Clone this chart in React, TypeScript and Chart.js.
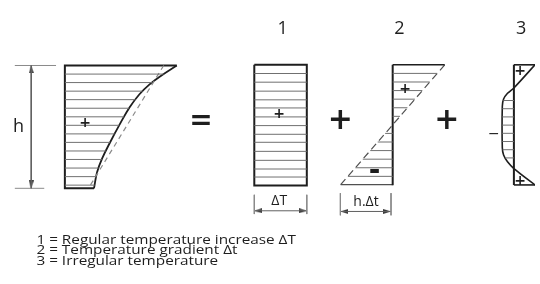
import React, { useEffect, useRef } from "react";
import { Chart, registerables } from "chart.js";

Chart.register(...registerables);

type P = [number, number];

// ---------- Figure 0 : real temperature profile ----------
const fig0Outline: P[] = [[175, 62.7], [61, 62.7], [61, 190], [90.7, 190]];
const fig0Curve: P[] = [
  [175, 62.7], [158, 74], [147, 82.5], [137, 92.5], [127, 106],
  [117, 123.5], [107, 142.5], [99, 159], [93.8, 173.3], [90.7, 190],
];
const fig0Dashed: P[] = [[161.7, 62.7], [85, 190]];
const fig0HatchYs = [71.6, 80.4, 89.3, 98.1, 107, 115.9, 124.7, 133.6, 142.4, 151.3, 160.1, 169, 177.9, 186.7];
const fig0LeftX = 61;
const fig0DimLine: P[] = [[26.7, 62.7], [26.7, 190]];
const fig0ExtTop: P[] = [[10, 62.7], [52, 62.7]];
const fig0ExtBottom: P[] = [[10, 190], [40, 190]];

// ---------- Figure 1 : uniform increase ----------
const fig1Rect: P[] = [[254, 62], [307.5, 62], [307.5, 187], [254, 187], [254, 62]];
const fig1HatchYs = [71, 80, 89.3, 98.3, 106.7, 116, 125, 134, 142.3, 151.7, 161, 170, 178.3];
const fig1Span: P = [254, 307.5];
const fig1TickL: P[] = [[254, 196.7], [254, 216.7]];
const fig1TickR: P[] = [[307.5, 196.7], [307.5, 216.7]];
const fig1Arrow: P[] = [[254, 213.3], [307.5, 213.3]];

// ---------- Figure 2 : gradient ----------
const fig2Axis: P[] = [[395, 62], [395, 186.7]];
const fig2Top: P[] = [[395, 62], [448, 62]];
const fig2Bottom: P[] = [[342, 186.2], [395, 186.2]];
const fig2Diag: P[] = [[448, 62], [342, 186.2]];
const fig2DiagTop: P[] = [[448, 62], [395, 124.2]];
const fig2DiagBottom: P[] = [[342, 186.2], [395, 124.2]];
const fig2HatchTopYs = [70.9, 79.8, 88.7, 97.6, 106.5, 115.4];
const fig2HatchBottomYs = [133.1, 142, 150.9, 159.8, 168.7, 177.6];
const fig2AxisX = 395;
const fig2TickL: P[] = [[341.7, 195], [341.7, 218]];
const fig2TickR: P[] = [[393.3, 195], [393.3, 218]];
const fig2Arrow: P[] = [[341.7, 214], [393.3, 214]];

// ---------- Figure 3 : irregular ----------
const fig3Axis: P[] = [[518.5, 62], [518.5, 186.5]];
const fig3Top: P[] = [[518.5, 62], [540, 62]];
const fig3Bottom: P[] = [[518.5, 186.5], [540, 186.5]];
const fig3Curve: P[] = [
  [540, 62], [518.5, 86], [512, 91.5], [508, 97.5], [506.7, 105],
  [506.7, 148], [508, 155.5], [512, 162.5], [518.5, 169.5], [540, 186.5],
];
const fig3HatchYs = [99, 107.5, 116, 124.5, 133, 141.5, 150, 158.5];
const fig3AxisX = 518.5;

// ---------- arrow heads (tip positions, direction in degrees: 0 up, 90 right) ----------
const arrowTips: P[] = [[26.7, 62.7], [26.7, 190], [254, 213.3], [307.5, 213.3], [341.7, 214], [393.3, 214]];
const arrowDirs = [0, 180, 270, 90, 270, 90];

// ---------- texts ----------
const figureLabels = ["1", "2", "3"];
const figureLabelXs = [281.7, 401.7, 525.7];
const figureLabelY = 23;
const legendLines = [
  "1 = Regular temperature increase \u0394T",
  "2 = Temperature gradient \u0394t",
  "3 = Irregular temperature",
];
const legendX = 32;
const legendBaselines = [247.3, 258.4, 269.5];
const legendWidth = 259.5;

// [text, x, y, font]
const glyphs: [string, number, number, string][] = [
  ["h", 13.8, 124.5, "18px 'Open Sans'"],
  ["+", 81.7, 121.7, "bold 14px 'DejaVu Sans'"],
  ["=", 199.5, 118.8, "bold 28px 'DejaVu Sans'"],
  ["+", 279.3, 112.3, "bold 14px 'DejaVu Sans'"],
  ["\u0394T", 279.5, 201.7, "14px 'Open Sans'"],
  ["+", 341.7, 118.5, "bold 30px 'DejaVu Sans'"],
  ["+", 407.7, 86.7, "bold 14px 'DejaVu Sans'"],
  ["-", 376.7, 171.7, "bold 28px 'DejaVu Sans'"],
  ["h.\u0394t", 368.3, 203, "14px 'Open Sans'"],
  ["+", 450, 118.5, "bold 30px 'DejaVu Sans'"],
  ["+", 525, 68.3, "bold 14px 'DejaVu Sans'"],
  ["+", 525, 181.7, "bold 14px 'DejaVu Sans'"],
  ["\u2212", 498.3, 133.5, "14px 'DejaVu Sans'"],
];

const DARK = "#1e1e1e";
const HATCH = "#707070";
const DIM = "#606060";
const TEXT = "#1e1e1e";

function xAt(poly: P[], y: number): number {
  for (let i = 0; i < poly.length - 1; i++) {
    const [x1, y1] = poly[i];
    const [x2, y2] = poly[i + 1];
    const lo = Math.min(y1, y2);
    const hi = Math.max(y1, y2);
    if (y >= lo && y <= hi && hi > lo) {
      return x1 + ((y - y1) * (x2 - x1)) / (y2 - y1);
    }
  }
  return poly[poly.length - 1][0];
}

function segData(segs: [number, number, number][]) {
  const out: { x: number; y: number | null }[] = [];
  segs.forEach(([y, a, b]) => {
    out.push({ x: a, y });
    out.push({ x: b, y });
    out.push({ x: b, y: null });
  });
  return out;
}

function lineDs(pts: P[], color: string, width: number, extra: any = {}) {
  return {
    type: "scatter",
    data: pts.map(([x, y]) => ({ x, y })),
    showLine: true,
    borderColor: color,
    borderWidth: width,
    pointRadius: 0,
    pointHoverRadius: 0,
    fill: false,
    tension: 0,
    spanGaps: false,
    ...extra,
  };
}

function hatchDs(segs: [number, number, number][], color = HATCH, width = 1) {
  return {
    type: "scatter",
    data: segData(segs),
    showLine: true,
    borderColor: color,
    borderWidth: width,
    pointRadius: 0,
    pointHoverRadius: 0,
    fill: false,
    tension: 0,
    spanGaps: false,
  };
}

function drawGlyph(ctx: CanvasRenderingContext2D, text: string, font: string, cx: number, cy: number) {
  ctx.font = font;
  ctx.textAlign = "left";
  ctx.textBaseline = "alphabetic";
  const m = ctx.measureText(text);
  const w = m.actualBoundingBoxLeft + m.actualBoundingBoxRight;
  const h = m.actualBoundingBoxAscent + m.actualBoundingBoxDescent;
  const x = cx - w / 2 + m.actualBoundingBoxLeft;
  const y = cy + h / 2 - m.actualBoundingBoxDescent;
  ctx.fillText(text, x, y);
}

const textPlugin = {
  id: "diagramText",
  afterDatasetsDraw(chart: any) {
    const { ctx } = chart;
    const sx = chart.scales.x;
    const sy = chart.scales.y;
    ctx.save();
    ctx.fillStyle = TEXT;
    glyphs.forEach(([t, x, y, f]) => {
      drawGlyph(ctx, t, f, sx.getPixelForValue(x), sy.getPixelForValue(y));
    });
    figureLabels.forEach((t, i) => {
      drawGlyph(ctx, t, "18px 'Open Sans'", sx.getPixelForValue(figureLabelXs[i]), sy.getPixelForValue(figureLabelY));
    });
    const legendFont = "12.6px 'Open Sans'";
    ctx.font = legendFont;
    ctx.textAlign = "left";
    ctx.textBaseline = "alphabetic";
    const scale = legendWidth / ctx.measureText(legendLines[0]).width;
    legendLines.forEach((t, i) => {
      ctx.save();
      ctx.translate(sx.getPixelForValue(legendX), sy.getPixelForValue(legendBaselines[i]));
      ctx.scale(scale, 1);
      ctx.fillText(t, 0, 0);
      ctx.restore();
    });
    ctx.restore();
  },
};

export default function App() {
  const ref = useRef<HTMLCanvasElement | null>(null);

  useEffect(() => {
    document.body.style.margin = "0";
    const canvas = ref.current;
    if (!canvas) return;

    // arrow head image
    const arrow = document.createElement("canvas");
    arrow.width = 5;
    arrow.height = 8;
    const actx = arrow.getContext("2d")!;
    actx.fillStyle = "#3a3a3a";
    actx.beginPath();
    actx.moveTo(2.5, 0);
    actx.lineTo(5, 8);
    actx.lineTo(0, 8);
    actx.closePath();
    actx.fill();
    const half = 4;
    const arrowCenters = arrowTips.map(([x, y], i) => {
      const r = (arrowDirs[i] * Math.PI) / 180;
      return { x: x - Math.sin(r) * half, y: y + Math.cos(r) * half };
    });

    const fig0Segs: [number, number, number][] = fig0HatchYs.map((y) => [y, fig0LeftX, xAt(fig0Curve, y)]);
    const fig1Segs: [number, number, number][] = fig1HatchYs.map((y) => [y, fig1Span[0], fig1Span[1]]);
    const fig2Segs: [number, number, number][] = [
      ...fig2HatchTopYs.map((y) => [y, fig2AxisX, xAt(fig2Diag, y)] as [number, number, number]),
      ...fig2HatchBottomYs.map((y) => [y, xAt(fig2Diag, y), fig2AxisX] as [number, number, number]),
    ];
    const fig3Segs: [number, number, number][] = fig3HatchYs.map((y) => [y, xAt(fig3Curve.slice(1, 9), y), fig3AxisX]);

    const diagLen = Math.hypot(fig2DiagTop[0][0] - fig2DiagTop[1][0], fig2DiagTop[0][1] - fig2DiagTop[1][1]);
    const period = diagLen / 7;

    const datasets: any[] = [
      hatchDs(fig0Segs),
      hatchDs(fig1Segs),
      hatchDs(fig2Segs),
      hatchDs(fig3Segs),
      lineDs(fig0Dashed, "#8a8a8a", 1.2, { borderDash: [5, 4] }),
      lineDs(fig0Outline, DARK, 2),
      lineDs(fig0Curve, DARK, 1.8, { tension: 0.4 }),
      lineDs(fig0DimLine, DIM, 1),
      lineDs(fig0ExtTop, "#8a8a8a", 1),
      lineDs(fig0ExtBottom, "#8a8a8a", 1),
      lineDs(fig1Rect, DARK, 2),
      lineDs(fig1TickL, "#8a8a8a", 1),
      lineDs(fig1TickR, "#8a8a8a", 1),
      lineDs(fig1Arrow, DIM, 1),
      lineDs(fig2Axis, DARK, 2),
      lineDs(fig2Top, DARK, 1.6),
      lineDs(fig2Bottom, "#505050", 1.3),
      lineDs(fig2DiagTop, "#505050", 1.2, { borderDash: [period * 0.62, period * 0.38] }),
      lineDs(fig2DiagBottom, "#505050", 1.2, { borderDash: [period * 0.62, period * 0.38] }),
      lineDs(fig2TickL, "#8a8a8a", 1),
      lineDs(fig2TickR, "#8a8a8a", 1),
      lineDs(fig2Arrow, DIM, 1),
      lineDs(fig3Axis, DARK, 2),
      lineDs(fig3Top, DARK, 1.6),
      lineDs(fig3Bottom, DARK, 1.6),
      lineDs(fig3Curve, DARK, 1.6, { tension: 0.25 }),
      {
        type: "scatter",
        data: arrowCenters,
        showLine: false,
        pointStyle: arrow,
        pointRadius: 4,
        pointHoverRadius: 4,
        pointRotation: arrowDirs,
      },
    ];

    const chart = new Chart(canvas, {
      type: "scatter",
      data: { datasets },
      options: {
        responsive: false,
        maintainAspectRatio: false,
        animation: false,
        events: [],
        layout: { padding: 0 },
        plugins: {
          legend: { display: false },
          tooltip: { enabled: false },
        },
        scales: {
          x: { type: "linear", min: 0, max: 540, display: false },
          y: { type: "linear", min: 0, max: 284, reverse: true, display: false },
        },
      },
      plugins: [textPlugin],
    } as any);

    return () => chart.destroy();
  }, []);

  return (
    <div style={{ width: 540, height: 284, background: "#fff" }}>
      <canvas ref={ref} width={540} height={284} style={{ display: "block" }} />
    </div>
  );
}
